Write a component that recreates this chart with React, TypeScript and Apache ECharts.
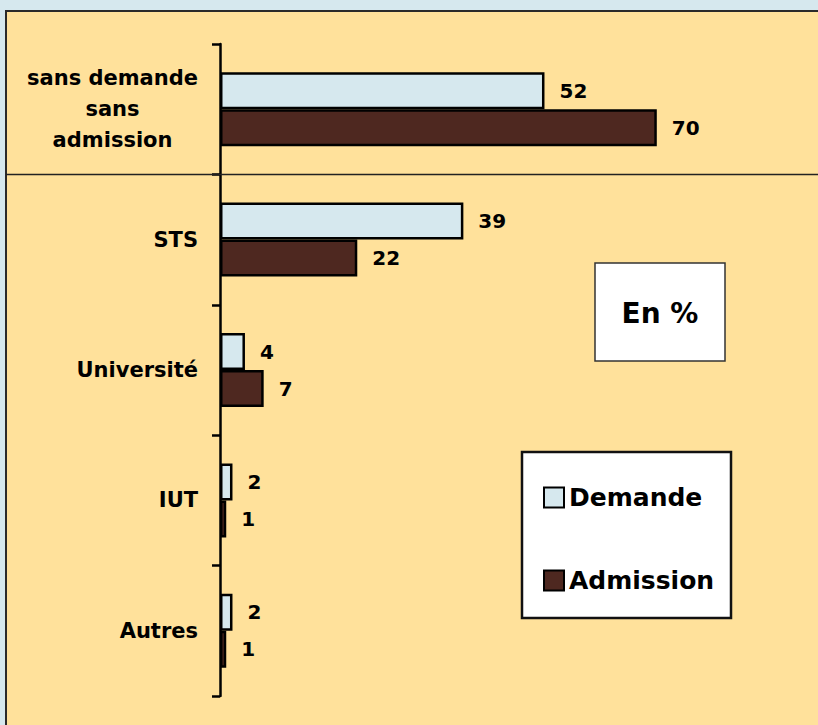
import React, { useEffect, useRef } from "react";
import * as echarts from "echarts";

const categories = ["sans demande\nsans\nadmission", "STS", "Université", "IUT", "Autres"];
const seriesNames = ["Demande", "Admission"];
const demande = [52, 39, 4, 2, 2];
const admission = [70, 22, 7, 1, 1];

const FONT = "'DejaVu Sans', sans-serif";

export default function App() {
  const ref = useRef<HTMLDivElement>(null);
  useEffect(() => {
    if (!ref.current) return;
    const chart = echarts.init(ref.current, null, { renderer: "svg" });
    const labelStyle = {
      show: true,
      position: "right" as const,
      distance: 15,
      fontFamily: FONT,
      fontWeight: "bold" as const,
      fontSize: 20,
      color: "#000",
    };
    chart.setOption({
      animation: false,
      backgroundColor: "#D6E8EE",
      grid: { left: 220, top: 44, height: 652, width: 90 * 6.24, containLabel: false },
      xAxis: { type: "value", min: 0, max: 90, show: false },
      yAxis: {
        type: "category",
        data: categories,
        inverse: true,
        axisLine: { show: true, lineStyle: { color: "#000", width: 2.5 } },
        axisTick: { show: true, length: 8, lineStyle: { color: "#000", width: 2.5 } },
        axisLabel: {
          margin: 22,
          formatter: (v: string) => `{a|${v}}`,
          rich: {
            a: {
              align: "center",
              fontFamily: FONT,
              fontWeight: "bold",
              fontSize: 21,
              lineHeight: 31,
              color: "#000",
            },
          },
        },
        splitLine: { show: false },
      },
      legend: {
        data: seriesNames,
        orient: "vertical",
        left: 538,
        top: 480,
        itemWidth: 20,
        itemHeight: 20,
        itemGap: 58,
        icon: "rect",
        textStyle: {
          fontFamily: FONT,
          fontWeight: "bold",
          fontSize: 25,
          color: "#000",
        },
      },
      graphic: [
        {
          type: "rect",
          z: -100,
          shape: { x: 6, y: 11, width: 830, height: 730 },
          style: { fill: "#FFE19B", stroke: "#2a2a2a", lineWidth: 2 },
        },
        {
          type: "line",
          z: 1,
          shape: { x1: 6, y1: 174.5, x2: 818, y2: 174.5 },
          style: { stroke: "#222", lineWidth: 1.5 },
        },
        {
          type: "rect",
          z: 1,
          shape: { x: 595, y: 263, width: 130, height: 98 },
          style: { fill: "#fff", stroke: "#333", lineWidth: 1.5 },
        },
        {
          type: "text",
          z: 5,
          x: 660,
          y: 313,
          style: {
            text: "En %",
            align: "center",
            verticalAlign: "middle",
            fontFamily: FONT,
            fontWeight: "bold",
            fontSize: 28,
            fill: "#000",
          },
        },
        {
          type: "rect",
          z: 1,
          shape: { x: 522, y: 452, width: 209, height: 166 },
          style: { fill: "#fff", stroke: "#111", lineWidth: 2.5 },
        },
      ],
      series: [
        {
          name: seriesNames[0],
          type: "bar",
          data: demande,
          barWidth: 37,
          barGap: "0%",
          itemStyle: { color: "#D6E8EE", borderColor: "#000", borderWidth: 2.5 },
          label: labelStyle,
        },
        {
          name: seriesNames[1],
          type: "bar",
          data: admission,
          barWidth: 37,
          barGap: "0%",
          itemStyle: { color: "#4E2820", borderColor: "#000", borderWidth: 2.5 },
          label: labelStyle,
        },
      ],
    });
    return () => chart.dispose();
  }, []);
  return (
    <div
      ref={ref}
      style={{ position: "absolute", left: 0, top: 0, width: 818, height: 725 }}
    />
  );
}
